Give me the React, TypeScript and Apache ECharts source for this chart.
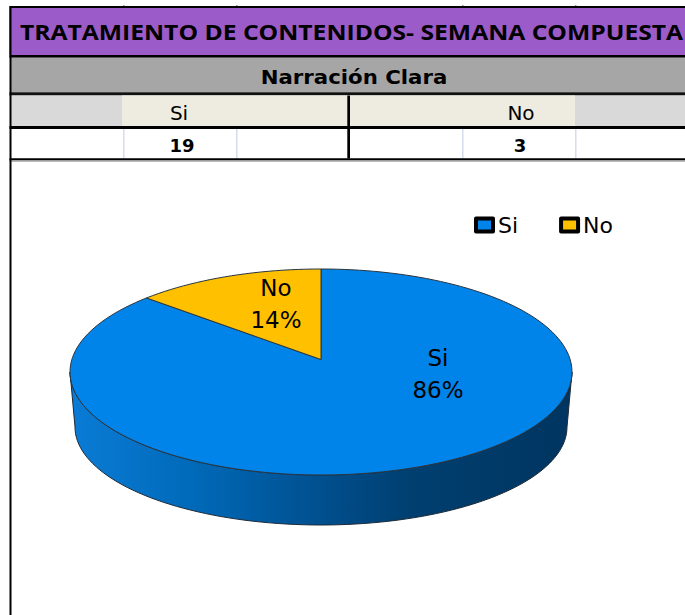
import React, { useEffect, useRef } from "react";
import * as echarts from "echarts";

const tableTitle = "TRATAMIENTO DE CONTENIDOS- SEMANA COMPUESTA";
const tableSubtitle = "Narración Clara";
const categories = ["Si", "No"];
const counts = [19, 3];
const sliceColors = ["#0084EA", "#FFC000"];

const total = counts.reduce((a, b) => a + b, 0);

const TOP = { cx: 321, cy: 372, rx: 251, ry: 103 };
const BOTTOM = { cx: 321, cy: 427, rx: 246, ry: 98 };
const TILT = 0.121;

// Perspective mapping of a point on the flat disc into the drawn ellipse.
function project(r: number, deg: number): number[] {
  const a = (deg * Math.PI) / 180;
  const x = r * Math.sin(a);
  const y = r * Math.cos(a);
  const d = 1 + TILT * y;
  const px = (x * Math.sqrt(1 - TILT * TILT)) / d;
  const py = (y + TILT) / d;
  return [TOP.cx + px * TOP.rx, TOP.cy - py * TOP.ry];
}

function slicePoints(from: number, to: number): number[][] {
  const pts: number[][] = [project(0, 0)];
  const steps = Math.max(4, Math.ceil((to - from) / 2));
  for (let i = 0; i <= steps; i++) pts.push(project(1, from + ((to - from) * i) / steps));
  return pts;
}

function wallPoints(): number[][] {
  const pts: number[][] = [];
  for (let t = 0; t <= 180; t += 2) {
    const a = (t * Math.PI) / 180;
    pts.push([TOP.cx + TOP.rx * Math.cos(a), TOP.cy + TOP.ry * Math.sin(a)]);
  }
  for (let t = 180; t >= 0; t -= 2) {
    const a = (t * Math.PI) / 180;
    pts.push([BOTTOM.cx + BOTTOM.rx * Math.cos(a), BOTTOM.cy + BOTTOM.ry * Math.sin(a)]);
  }
  return pts;
}

const labelPos = [
  [438, 374],
  [276, 304],
];

const FONT = "'DejaVu Sans'";

function sliceSeries(idx: number) {
  const before = counts.slice(0, idx).reduce((a, b) => a + b, 0);
  return {
    type: "custom",
    name: categories[idx],
    coordinateSystem: "none",
    itemStyle: { color: sliceColors[idx] },
    data: [{ name: categories[idx], value: counts[idx] }],
    renderItem: (_p: any, api: any) => {
      const v = api.value(0);
      const from = (before / total) * 360;
      const to = ((before + v) / total) * 360;
      const children: any[] = [];
      if (idx === 0) {
        children.push({
          type: "polygon",
          shape: { points: wallPoints() },
          style: {
            fill: new echarts.graphic.LinearGradient(0, 0, 1, 0, [
              { offset: 0, color: "#0A7CD6" },
              { offset: 0.25, color: "#0069B8" },
              { offset: 0.5, color: "#004F8E" },
              { offset: 0.68, color: "#003F70" },
              { offset: 1, color: "#003560" },
            ]),
            stroke: "#1C2A38",
            lineWidth: 1,
          },
        });
      }
      children.push({
        type: "polygon",
        shape: { points: slicePoints(from, to) },
        style: { fill: sliceColors[idx], stroke: "#2A3540", lineWidth: 1 },
      });
      children.push({
        type: "text",
        x: labelPos[idx][0],
        y: labelPos[idx][1],
        style: {
          text: `${categories[idx]}\n${Math.round((v / total) * 100)}%`,
          fill: "#000",
          font: `23px ${FONT}`,
          lineHeight: 32,
          align: "center",
          verticalAlign: "middle",
        },
      });
      return { type: "group", children };
    },
  };
}

const rect = (x: number, y: number, width: number, height: number, fill: string) => ({
  type: "rect",
  silent: true,
  shape: { x, y, width, height },
  style: { fill },
});

const text = (x: number, y: number, t: string, font: string, scaleX = 1) => ({
  type: "text",
  silent: true,
  x,
  y,
  scaleX,
  style: { text: t, font, fill: "#000", align: "center", verticalAlign: "middle" },
});

function tableGraphics() {
  const cols = [123, 236, 462, 575];
  return [
    ...cols.map((x) => rect(x, 5, 1.5, 2, "#999")),
    rect(9.5, 6, 675.5, 51.7, "#000"),
    rect(11, 8, 674, 47, "#9B5BC8"),
    rect(11, 57.7, 674, 34.6, "#A6A6A6"),
    rect(9.5, 92.3, 675.5, 3.2, "#111"),
    rect(11, 95.5, 674, 30.5, "#D9D9D9"),
    rect(122, 95.5, 453, 30.5, "#EEEBE0"),
    rect(9.5, 126, 675.5, 3, "#000"),
    rect(11, 129, 674, 29.3, "#FFF"),
    ...cols.map((x) => rect(x, 129, 1.5, 29.3, "#D5DCEB")),
    rect(347.3, 95.5, 2.7, 63, "#000"),
    rect(9.5, 158.3, 675.5, 2.3, "#000"),
    rect(11, 160.6, 674, 1.4, "#BBB"),
    rect(9.5, 6, 2, 609, "#000"),
    text(351.5, 32, tableTitle, "bold 21px 'Open Sans'", 1.175),
    text(354, 77, tableSubtitle, `bold 19px ${FONT}`, 1.12),
    text(179, 113, categories[0], `20px ${FONT}`),
    text(521, 113, categories[1], `20px ${FONT}`),
    text(182, 145, String(counts[0]), `bold 18px ${FONT}`),
    text(520, 145, String(counts[1]), `bold 18px ${FONT}`),
  ];
}

export default function App() {
  const ref = useRef<HTMLDivElement>(null);
  useEffect(() => {
    document.body.style.margin = "0";
    const chart = echarts.init(ref.current!, undefined, { renderer: "svg" });
    chart.setOption({
      animation: false,
      backgroundColor: "#fff",
      legend: {
        data: categories,
        left: 469,
        top: 209,
        icon: "rect",
        itemWidth: 17,
        itemHeight: 13,
        itemGap: 41,
        itemStyle: { borderColor: "#000", borderWidth: 4, borderJoin: "round" },
        textStyle: { fontFamily: "DejaVu Sans", fontSize: 22, color: "#000" },
      },
      graphic: { elements: tableGraphics() },
      series: [sliceSeries(0), sliceSeries(1)],
    });
    return () => chart.dispose();
  }, []);
  return <div ref={ref} style={{ position: "fixed", left: 0, top: 0, width: 685, height: 615 }} />;
}
